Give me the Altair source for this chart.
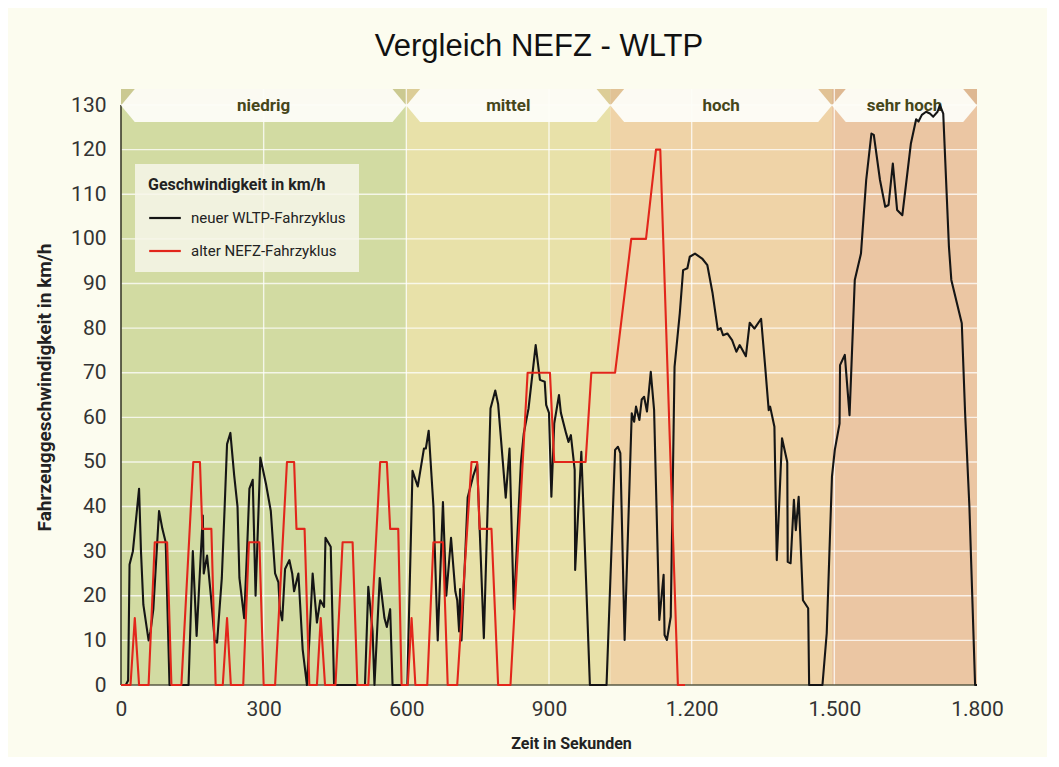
import altair as alt
import pandas as pd

# ---------------- data ----------------
x_ticks = [0, 300, 600, 900, 1200, 1500, 1800]
y_ticks = list(range(0, 140, 10))

band_names = ["niedrig", "mittel", "hoch", "sehr hoch"]
band_start = [0, 600, 1029, 1495]
band_end = [600, 1029, 1495, 1800]
band_colors = ["#d2dba2", "#e8e1a9", "#efd3a7", "#ebc6a3"]

series_names = ["neuer WLTP-Fahrzyklus", "alter NEFZ-Fahrzyklus"]
series_colors = ["#151515", "#e2261b"]

wltp_t = [0, 10, 15, 18, 25, 38, 42, 47, 58, 62, 68, 80, 87, 94, 102, 142, 151, 159, 172, 174,
          181, 189, 197, 202, 212, 218, 223, 230, 238, 245, 249, 259, 265, 270, 277, 283, 293, 305, 315, 324,
          331, 334, 339, 345, 354, 360, 364, 373, 382, 391, 396, 403, 412, 419, 427, 430, 441, 448, 513, 520,
          529, 533, 544, 554, 559, 566, 571, 602, 613, 624, 637, 641, 647, 657, 666, 677, 684, 694, 703, 707,
          711, 713, 716, 729, 741, 749, 763, 777, 787, 793, 809, 817, 826, 841, 847, 857, 872, 881, 891, 894,
          900, 905, 911, 921, 925, 936, 941, 946, 954, 955, 968, 986, 1021, 1039, 1045, 1050, 1059, 1074, 1079, 1083,
          1090, 1095, 1100, 1106, 1114, 1121, 1132, 1141, 1143, 1148, 1156, 1164, 1175, 1182, 1191, 1196, 1207, 1222, 1233, 1244,
          1255, 1261, 1266, 1275, 1285, 1294, 1301, 1314, 1322, 1332, 1346, 1354, 1362, 1365, 1374, 1379, 1390, 1401, 1402, 1408,
          1415, 1419, 1425, 1434, 1445, 1447, 1475, 1484, 1495, 1501, 1511, 1512, 1522, 1532, 1543, 1556, 1567, 1578, 1583, 1596,
          1607, 1614, 1623, 1632, 1643, 1661, 1672, 1677, 1684, 1693, 1701, 1708, 1717, 1722, 1729, 1741, 1746, 1768, 1775, 1784,
          1796, 1800]
wltp_v = [0, 0, 1, 27, 30, 44, 30, 18, 10, 12, 17, 39, 35, 32, 0, 0, 30, 11, 38, 25,
          29, 20, 10, 9.5, 24, 40, 54, 56.5, 47, 40, 24, 15, 30, 44, 46, 20, 51, 45, 39, 25,
          23, 17, 14.5, 26, 28, 25, 21, 25, 8, 0, 10, 25, 14, 19, 17.5, 33, 31, 0, 0, 22,
          12, 0, 24, 15, 13, 17, 0, 0, 48, 44.5, 53, 53, 57, 40, 10, 41, 20, 33, 21, 19,
          12, 21.5, 10, 42, 47, 49.5, 10.5, 62, 66, 63, 42, 53, 17, 50, 56.4, 62, 76.2, 68.4, 68, 62.8,
          61, 42.2, 58.6, 65, 61, 56.4, 54.5, 56, 48.2, 25.8, 52.3, 0, 0, 52.7, 53.4, 52, 10.1, 60.9, 59, 62.4,
          59.4, 64, 64.6, 61.3, 70.2, 61.6, 14.6, 24.7, 11.2, 10.1, 15.3, 71.3, 83.3, 93, 93.4, 96, 96.7, 95.6, 94.1, 87.8,
          79.6, 80, 78.4, 78.8, 77.3, 74.7, 76.2, 73.7, 81.2, 79.9, 82.1, 72.1, 61.6, 62.4, 57.9, 28, 55.3, 50, 27.6, 27.3,
          41.5, 34.7, 42.2, 19, 17.2, 0, 0, 11.6, 46.7, 52.7, 58.6, 71.7, 74, 60.5, 90.8, 96.7, 113.2, 123.6, 123.3, 113.2,
          107.2, 107.6, 116.9, 106.5, 105.3, 121.4, 126.8, 126.3, 127.8, 128.5, 128.1, 127.4, 128.5, 130, 128.1, 98.2, 90.8, 81.1, 60.9, 40,
          0, 0]

nefz_t = [0, 20, 29, 38, 58, 71, 97, 106, 127, 152, 166, 171, 190, 199,
          214, 223, 231, 257, 269, 291, 300, 324, 349, 364, 369, 386, 396,
          412, 420, 429, 451, 466, 487, 497, 520, 545, 559, 566, 583, 590,
          603, 611, 619, 644, 657, 677, 687, 707, 737, 749, 754, 779, 793,
          819, 855, 902, 911, 977, 989, 1039, 1073, 1104, 1125, 1134, 1171, 1186]
nefz_v = [0, 0, 15, 0, 0, 32, 32, 0, 0, 50, 50, 35, 35, 0,
          0, 15, 0, 0, 32, 32, 0, 0, 50, 50, 35, 35, 0,
          0, 15, 0, 0, 32, 32, 0, 0, 50, 50, 35, 35, 0,
          0, 15, 0, 0, 32, 32, 0, 0, 50, 50, 35, 35, 0,
          0, 70, 70, 50, 50, 70, 70, 100, 100, 120, 120, 0, 0]

# ---------------- layout / style ----------------
W, H = 856, 596
Y_MAX = 133.6
BANNER_TOP = 133.6
BANNER_BOT = 126.2
BANNER_MID = (BANNER_TOP + BANNER_BOT) / 2
NOTCH = 29
COND = "Roboto, 'Liberation Sans', sans-serif"

xscale = alt.Scale(domain=[0, 1800], nice=False, zero=False)
yscale = alt.Scale(domain=[0, Y_MAX], nice=False)

xaxis = alt.Axis(values=x_ticks, grid=False, domain=False, ticks=False,
                 labelExpr="replace(format(datum.value, ','), ',', '.')",
                 labelFont=COND, labelFontSize=21, labelColor="#333333", labelPadding=13,
                 labelFlush=False,
                 title="Zeit in Sekunden", titleFont=COND, titleFontSize=16, titleFontWeight="bold",
                 titleColor="#222222", titlePadding=16, titleX=450)
yaxis = alt.Axis(values=y_ticks, grid=False, domain=False, ticks=False,
                 labelFont=COND, labelFontSize=21, labelColor="#333333", labelPadding=15,
                 title="Fahrzeuggeschwindigkeit in km/h", titleFont=COND, titleFontSize=19,
                 titleFontWeight="bold", titleColor="#222222", titlePadding=16)


def X(field=None, **kw):
    if field is None:
        return alt.X(scale=xscale, axis=xaxis, **kw)
    return alt.X(field, type="quantitative", scale=xscale, axis=xaxis, **kw)


def Y(field=None, **kw):
    if field is None:
        return alt.Y(scale=yscale, axis=yaxis, **kw)
    return alt.Y(field, type="quantitative", scale=yscale, axis=yaxis, **kw)


# ---------------- tables ----------------
bands = pd.DataFrame({"band": band_names, "start": band_start, "end": band_end})
bands["center"] = (bands["start"] + bands["end"]) / 2

banner_rows = []
for name, s, e in zip(band_names, band_start, band_end):
    banner_rows += [
        {"band": name, "x": s, "top": BANNER_MID, "bot": BANNER_MID},
        {"band": name, "x": s + NOTCH, "top": BANNER_TOP, "bot": BANNER_BOT},
        {"band": name, "x": e - NOTCH, "top": BANNER_TOP, "bot": BANNER_BOT},
        {"band": name, "x": e, "top": BANNER_MID, "bot": BANNER_MID},
    ]
banner = pd.DataFrame(banner_rows)

lines = pd.concat([
    pd.DataFrame({"t": wltp_t, "v": wltp_v, "serie": series_names[0], "k": 0}),
    pd.DataFrame({"t": nefz_t, "v": nefz_v, "serie": series_names[1], "k": 1}),
], ignore_index=True)

hgrid = pd.DataFrame({"v": [v for v in y_ticks if v > 0]})
vgrid = pd.DataFrame({"t": [t for t in x_ticks if 0 < t < 1800]})

# ---------------- layers ----------------
bg = alt.Chart(bands).mark_rect().encode(
    x=X("start"), x2="end",
    y=alt.value(0), y2=alt.value(H),
    fill=alt.Fill("band:N", scale=alt.Scale(domain=band_names, range=band_colors), legend=None),
)

strip = alt.Chart(bands).mark_rect(color="#b08a58", opacity=0.22).encode(
    x=X("start"), x2="end",
    y=Y(datum=BANNER_TOP), y2=alt.Y2(datum=BANNER_MID),
)

hg = alt.Chart(hgrid).mark_rule(color="#ffffff", strokeWidth=1.4, opacity=0.75).encode(
    y=Y("v"), x=alt.value(0), x2=alt.value(W),
)
vg = alt.Chart(vgrid).mark_rule(color="#ffffff", strokeWidth=1.4, opacity=0.75).encode(
    x=X("t"), y=alt.value(0), y2=alt.value(H),
)

left_dom = alt.Chart(bands.head(1)).mark_rule(color="#3d3d2c", strokeWidth=1.6).encode(
    x=alt.value(0), y=Y(datum=130), y2=alt.Y2(datum=0),
)
bottom_dom = alt.Chart(bands.head(1)).mark_rule(color="#5a5a44", strokeWidth=1.6).encode(
    y=Y(datum=0), x=alt.value(0), x2=alt.value(W),
)

ban = alt.Chart(banner).mark_area(color="#fdfdf8", opacity=0.95, interpolate="linear").encode(
    x=X("x"), y=Y("top"), y2="bot", detail="band:N",
)

ban_txt = alt.Chart(bands).mark_text(font=COND, fontSize=17, fontWeight="bold", color="#46461a",
                                     baseline="middle").encode(
    x=X("center"), y=Y(datum=BANNER_MID), text="band:N",
)

ln = alt.Chart(lines).mark_line(strokeWidth=2.1, strokeJoin="round").encode(
    x=X("t"), y=Y("v"),
    stroke=alt.Stroke("serie:N", scale=alt.Scale(domain=series_names, range=series_colors),
                      sort=series_names,
                      legend=alt.Legend(title="Geschwindigkeit in km/h", orient="none",
                                        legendX=14, legendY=75,
                                        fillColor="rgba(247,246,234,0.85)", padding=13,
                                        symbolType="stroke", symbolSize=1000, symbolStrokeWidth=2.2,
                                        labelFont=COND, labelFontSize=15, labelColor="#222222",
                                        labelLimit=400, labelOffset=9,
                                        titleFont=COND, titleFontSize=16, titleFontWeight="bold",
                                        titleColor="#222222", titleLimit=400, titlePadding=8,
                                        rowPadding=8)),
    detail="k:N",
)

chart = alt.layer(bg, strip, hg, vg, left_dom, bottom_dom, ban, ban_txt, ln).properties(
    width=W, height=H,
    autosize=alt.AutoSizeParams(type="none"),
    padding={"left": 113, "top": 81, "right": 70, "bottom": 72},
    background="#fcfcef",
    title=alt.TitleParams("Vergleich NEFZ - WLTP", font="Liberation Sans", fontSize=31,
                          fontWeight="normal", color="#111111", anchor="middle", dx=-10, offset=25),
).configure_view(stroke=None)

chart.save("out.html", embed_options={"renderer": "svg", "actions": False})
